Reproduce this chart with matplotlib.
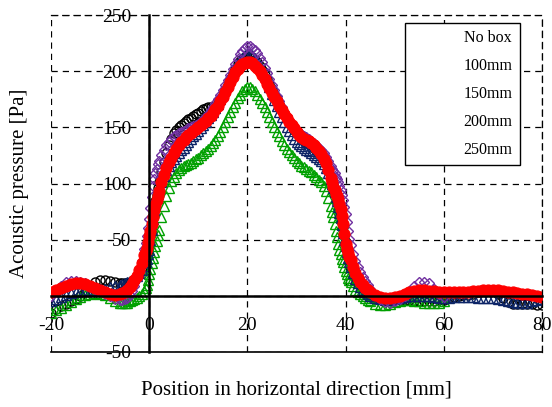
import numpy as np
import matplotlib.pyplot as plt

plt.rcParams['font.family'] = ['Liberation Serif', 'DejaVu Serif']
plt.rcParams['axes.unicode_minus'] = False

# measurement positions [mm]: coarse at the edges, finer in the middle and on the flanks
pos = np.concatenate([np.arange(-20, -5, 1.0),        # -20 .. -6
                      np.arange(-5.5, -0.9, 0.5),     # -5.5 .. -1
                      np.arange(-0.75, 2.01, 0.25),   # -0.75 .. 2
                      np.arange(2.5, 37.01, 0.5),     # 2.5 .. 37
                      np.arange(37.25, 41.01, 0.25),  # 37.25 .. 41
                      np.arange(41.5, 45.01, 0.5),    # 41.5 .. 45
                      np.arange(46, 81, 1.0)])        # 46 .. 80

labels = ['No box', '100mm', '150mm', '200mm', '250mm']

no_box = [-15, -12, -9, -7, -5, -3, 0, 4, 8.5, 12.5, 14.5, 14, 13, 12, 11,
          11, 11, 11.5, 12, 13, 14.5, 16.5, 19, 22.5, 27,
          31, 35, 40, 45, 53, 62, 70, 77, 84, 90, 96, 101,
          110, 119, 127, 134, 140, 145, 148, 150, 152, 154,
          155.5, 157, 158.5, 160, 161.5, 163, 164.5, 166, 167, 168,
          168, 167, 169, 172, 175.5, 179, 183.5, 188, 193, 198,
          202, 206, 209, 211, 212.5, 213, 213, 212, 210, 208,
          205, 201, 197, 193, 188.5, 184, 179.5, 175, 170.5, 166,
          162, 158, 154.5, 151, 148, 145, 143, 141, 139, 137,
          135.5, 134, 132, 130, 127.5, 125, 121.5, 118, 113, 107,
          103, 99, 95, 91, 87, 83, 78, 73, 67, 61, 54, 48, 43, 38, 33, 29,
          23, 18, 14, 10, 7, 4, 2, 0,
          -2, -3, -3, -3, -3, -3, -3.5, -4, -5, -5, -5, -5, -4.5, -4, -3.5, -2, -1, 0,
          0.5, 1, 2, 3, 4.5, 5.5, 5, 2, -2, -5.5, -7, -7.5, -7.5, -7, -7.5, -8, -8]

box_100 = [-15, -13, -10.5, -8, -5.5, -3, -1, 0.5, 1.5, 2.5, 2, 0.5, -2, -5, -6.5,
           -6.5, -6.5, -6, -5, -4, -2.5, -1.5, 0, 2, 4,
           7, 10, 14, 19, 24, 29, 34, 39, 44, 49, 54, 59,
           70, 80, 89, 96, 102, 106, 109, 112, 114, 115.5,
           116.5, 117.5, 118.5, 120, 121.5, 123, 125, 127, 129, 131,
           133.5, 136, 139, 142, 146, 150, 154.5, 159, 163.5, 168,
           172, 176, 179, 182, 184.5, 186, 185.5, 184, 182, 179,
           175.5, 172, 168, 164, 159.5, 155, 150.5, 146, 142, 138,
           134.5, 131, 128, 125, 122.5, 120, 118, 116, 114.5, 113,
           111.5, 110, 108, 106, 103.5, 101, 97.5, 93, 87, 80,
           75, 70, 64, 58, 52, 46, 41, 37, 33, 30, 26, 22, 19, 16, 14, 12,
           8.5, 5, 3, 1.5, 0, -2, -3.5, -5,
           -7, -8, -8, -7, -5.5, -4.5, -4, -4, -4.5, -5, -6, -6.5, -6.5, -6, -5]

box_150 = [-5, -3, -1, 1, 2.5, 3.5, 4, 4.5, 5, 5.5, 6, 6.5, 7.5, 8.5, 10,
           10.5, 11.5, 12, 13, 14.5, 16, 18, 20, 23, 27,
           30, 33, 37, 41, 50, 59, 68, 76, 82, 87, 91, 95,
           101, 107, 112, 116, 119, 122, 124.5, 127, 129.5, 132,
           134.5, 137, 139.5, 142, 144.5, 147, 149.5, 152, 155, 158,
           161, 164, 167.5, 171, 175.5, 180, 184.5, 189, 194, 199,
           203, 207, 210, 212, 214, 215, 215, 214, 212, 209,
           205, 201, 196, 191, 185.5, 180, 174.5, 169, 164, 159,
           154.5, 150, 146.5, 143, 140, 137, 135, 133, 131.5, 130,
           128.5, 127, 125.5, 124, 122, 120, 117, 114, 109.5, 104,
           100, 96, 92, 88, 84, 79, 74, 69, 63, 56, 50, 44, 39, 34, 30, 26,
           20, 15, 11, 8, 5, 3, 1.5, 0,
           -2, -3, -3.5, -3.5, -3, -2, -1, -0.5, 0, 0, 0, -0.5, -1, -1.5, -1.5, -1.5, -1, -1,
           -1, -1, -1, -1.5, -1.5, -1.5, -2, -2.5, -3.5, -4.5, -5.5, -6, -6.5, -6, -5, -4, -3]

box_200 = [-0.5, 4, 9, 12, 13.5, 13.5, 12.5, 11, 9, 6.5, 4, 1.5, -0.5, -2.5, -3.5,
           -3.5, -3, -2, 1, 4.5, 9, 15, 22, 31, 42,
           47, 53, 60, 68, 78, 88, 98, 104, 109, 113, 117, 120,
           125, 130, 134, 137, 140, 142, 143.5, 145, 146, 147,
           148, 149, 150, 151, 152, 153, 155, 157, 159.5, 162,
           165, 168, 171.5, 175, 179, 183, 187.5, 192, 197, 202,
           206.5, 211, 215, 218, 220.5, 222, 222, 221, 219, 216,
           212, 208, 203, 198, 193, 188, 183, 178, 173, 168,
           164, 160, 156.5, 153, 150.5, 148, 146, 144, 142.5, 141,
           139.5, 138, 136, 134, 132, 130, 127, 124, 120, 116,
           113, 111, 109, 106, 104, 101, 98, 94, 90, 85, 79, 73, 66, 58, 51, 45,
           37, 31, 26, 21, 17, 13, 9.5, 6.5,
           1, -3, -5.5, -6, -5, -3, 0, 4, 9, 12, 12.5, 11, 6, 2, -1]

box_250 = [3, 5, 7, 9, 10.5, 11.5, 11.5, 10.5, 9, 7, 5.5, 3.5, 2, 1, 1.5,
           2.5, 3.5, 5, 7.5, 10.5, 14, 18, 23, 29, 36,
           40, 43, 48, 53, 58, 64, 70, 76, 81, 85, 89, 93,
           101, 108, 114, 119, 123, 127, 131, 134, 137, 139,
           141, 143, 145, 147, 148.5, 150, 152, 154, 156, 158,
           160.5, 163, 166, 169, 173, 177, 181.5, 186, 190.5, 195,
           199, 202, 204.5, 206, 207.5, 208, 208, 207, 205, 203,
           200, 197, 193, 189, 185, 181, 177, 173, 169, 165,
           161.5, 158, 155, 152, 149, 146, 143.5, 141, 140, 139,
           137.5, 136, 134, 132, 129, 126, 122, 118, 112, 105,
           101, 97, 94, 91, 89, 86, 82, 77, 71, 64, 55, 46, 42, 38, 35, 32,
           26, 20, 16, 12.5, 9.5, 7, 5, 3,
           0.5, -1, -2, -2, -1, 0, 1.5, 3, 4.5, 5, 5, 4.5, 4, 3.5, 3.5, 3, 3, 3,
           3, 3.5, 4, 4.5, 5, 5.5, 5.5, 5, 4, 3, 3, 2.5, 2, 1.5, 0.5, -0.5, -1]

series = [no_box, box_100, box_150, box_200, box_250]
styles = [dict(marker='o', mfc='none', mec='black', ms=6.5, mew=1.0),
          dict(marker='^', mfc='none', mec='#00a000', ms=6.5, mew=1.0),
          dict(marker='^', mfc='none', mec='#0c2466', ms=6.5, mew=1.0),
          dict(marker='D', mfc='none', mec='#7030a0', ms=5.5, mew=1.0),
          dict(marker='o', mfc='#ff0000', mec='#ff0000', ms=8, mew=0.8)]

fig = plt.figure(figsize=(5.52, 4.07), dpi=100)
ax = fig.add_axes([51 / 552, 55 / 407, 491 / 552, 337 / 407])

for vals, lab, st in zip(series, labels, styles):
    ax.plot(pos[:len(vals)], vals, linestyle='none', label=lab, **st)

ax.set_xlim(-20, 80)
ax.set_ylim(-50, 250)
ax.set_xticks(np.arange(-20, 81, 20))
ax.set_yticks(np.arange(-50, 251, 50))
ax.grid(True, color='black', linestyle=(0, (5, 4)), linewidth=0.9)

# axes cross at the origin, tick labels sit beside them
ax.spines['left'].set_position(('data', 0))
ax.spines['bottom'].set_position(('data', 0))
ax.spines['left'].set_linewidth(1.8)
ax.spines['bottom'].set_linewidth(1.8)
for s in ['top', 'right']:
    ax.spines[s].set_linestyle((0, (5, 4)))
    ax.spines[s].set_linewidth(0.9)
ax.axhline(-50, color='black', lw=1.2, clip_on=False)
ax.tick_params(axis='both', length=0, labelsize=14)
ax.tick_params(axis='y', pad=13)
ax.tick_params(axis='x', pad=15)

ax.set_xlabel('Position in horizontal direction [mm]', fontsize=15)
ax.set_ylabel('Acoustic pressure [Pa]', fontsize=15)
ax.xaxis.set_label_coords(0.5, -0.085)
ax.yaxis.set_label_coords(-0.045, 0.5)

leg = ax.legend(loc='upper right', bbox_to_anchor=(0.955, 0.976), borderaxespad=0,
                fontsize=11.5, handlelength=3.2, handletextpad=0, borderpad=0.45,
                labelspacing=0.75, fancybox=False, edgecolor='black', framealpha=1)
leg.get_frame().set_linewidth(1.0)
for h in leg.legend_handles:
    h.set_visible(False)

fig.savefig('out.png', dpi=100)
